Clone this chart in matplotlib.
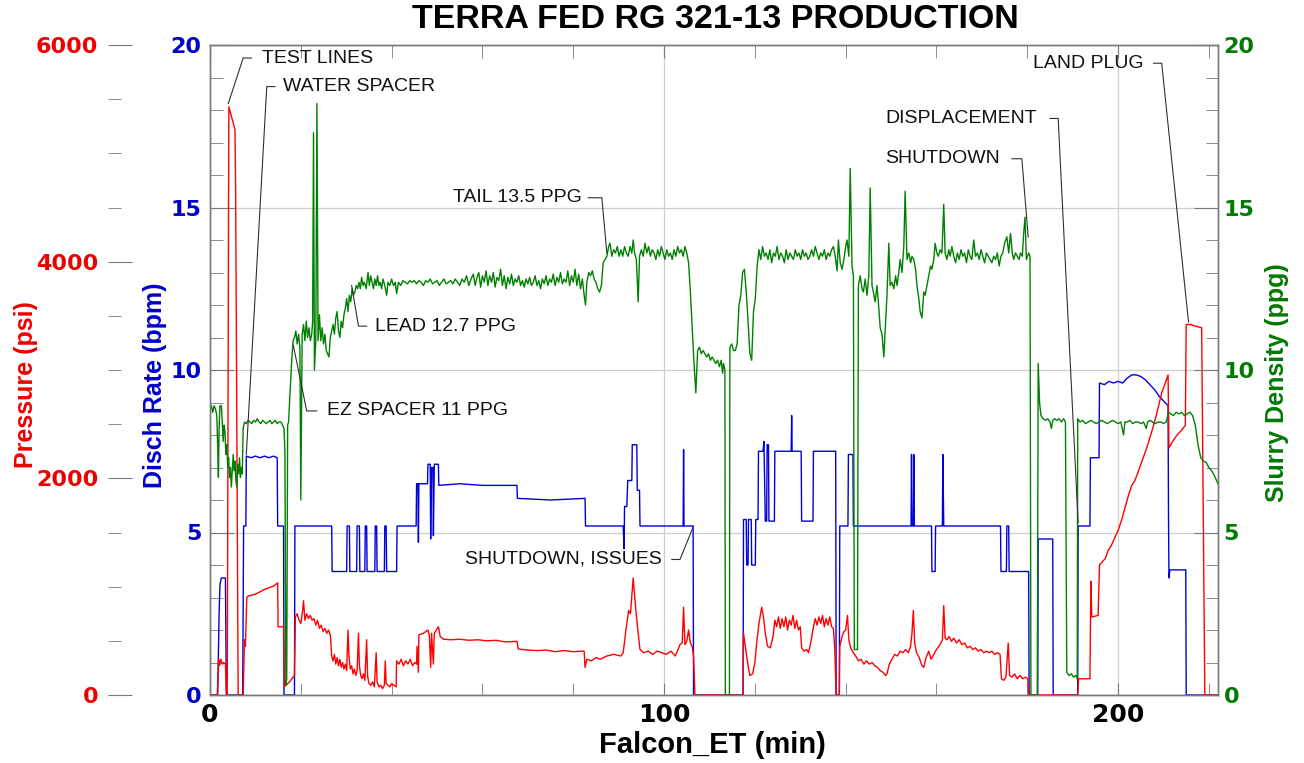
import matplotlib
matplotlib.use("Agg")
import matplotlib.pyplot as plt
from matplotlib.ticker import MultipleLocator

# ---------------- data ----------------
time_ticks = [0, 100, 200]
rate_ticks = [0, 5, 10, 15, 20]
dens_ticks = [0, 5, 10, 15, 20]
press_ticks = [0, 2000, 4000, 6000]

rate_t = [0, 1.7, 2.0, 2.2, 2.5, 3.4, 3.6, 7.2, 7.4, 7.9, 8.0, 9.0, 10.0, 11.0, 12.0, 13.0, 14.0,
          14.8, 14.9, 16.2, 16.3, 18.6, 18.7, 26.8, 26.9, 30.1, 30.2, 30.7, 30.8, 32.3, 32.4, 32.9,
          33.0, 34.1, 34.2, 34.5, 34.6, 36.3, 36.4, 36.7, 36.8, 38.4, 38.5, 38.8, 38.9, 41.1, 41.2,
          45.4, 45.5, 45.8, 45.9, 46.0, 47.9, 48.0, 48.5, 48.6, 48.8, 49.1, 49.2, 49.4, 50.3, 50.4,
          55.0, 60.0, 67.6, 67.7, 75.0, 82.6, 82.7, 91.0, 91.2, 91.3, 91.8, 92.0, 92.9, 93.0, 94.0,
          94.1, 94.6, 94.7, 104.2, 104.3, 104.4, 106.4, 106.5, 117.4, 117.5, 118.1, 118.2, 118.5,
          118.6, 119.2, 119.3, 120.1, 120.2, 120.7, 120.8, 121.8, 122.0, 122.3, 122.6, 122.7, 123.0,
          123.1, 124.3, 124.4, 128.0, 128.1, 128.2, 130.2, 130.3, 132.8, 132.9, 137.8, 137.9, 138.6,
          138.7, 140.5, 140.6, 141.6, 141.7, 154.4, 154.5, 154.6, 154.9, 155.0, 155.1, 158.9, 159.0,
          159.7, 159.8, 161.3, 161.4, 161.6, 174.1, 174.2, 175.4, 175.5, 175.9, 176.0, 180.3, 180.4,
          182.3, 182.4, 185.6, 185.7, 191.1, 191.2, 193.8, 193.9, 195.8, 195.9, 197.0, 198.0, 199.0,
          200.0, 201.0, 202.0, 203.0, 204.0, 205.0, 206.0, 207.0, 208.0, 209.0, 210.0, 211.0, 211.1,
          211.2, 211.4, 214.9, 215.0, 222.0]
rate_bpm = [0, 0, 2.5, 3.4, 3.6, 3.6, 0, 0, 5.2, 5.2, 7.35, 7.3, 7.35, 7.3, 7.35, 7.3, 7.35,
            7.3, 5.2, 5.2, 0, 0, 5.2, 5.2, 3.8, 3.8, 5.2, 5.2, 3.8, 3.8, 5.2, 5.2,
            3.8, 3.8, 5.2, 5.2, 3.8, 3.8, 5.2, 5.2, 3.8, 3.8, 5.2, 5.2, 3.8, 3.8, 5.2,
            5.2, 6.5, 6.5, 4.7, 6.5, 6.5, 7.1, 7.1, 4.8, 7.0, 7.0, 4.9, 7.1, 7.1, 6.45,
            6.5, 6.45, 6.45, 6.05, 6.0, 6.05, 5.2, 5.2, 4.5, 5.8, 5.8, 6.6, 6.6, 7.7, 7.7,
            6.3, 6.3, 5.2, 5.2, 7.55, 5.2, 5.2, 0, 0, 5.4, 5.4, 4.0, 4.0,
            5.4, 5.4, 4.0, 4.0, 5.4, 5.4, 7.5, 7.5, 7.8, 5.35, 5.35, 7.7, 7.7,
            5.35, 5.35, 7.5, 7.5, 8.6, 7.5, 7.5, 5.35, 5.35, 7.5, 7.5, 0, 0,
            5.2, 5.2, 7.4, 7.4, 5.2, 5.2, 7.4, 5.2, 5.2, 7.4, 5.2, 5.2, 3.8,
            3.8, 5.2, 5.2, 7.4, 5.2, 5.2, 3.8, 3.8, 5.2, 5.2, 3.8, 3.8, 0,
            0, 4.8, 4.8, 0, 0, 5.2, 5.2, 7.3, 7.3, 9.6, 9.55, 9.65, 9.6,
            9.65, 9.6, 9.75, 9.85, 9.85, 9.8, 9.7, 9.55, 9.4, 9.2, 9.05, 8.9, 5.5,
            3.6, 3.85, 3.85, 0, 0]

press_t = [0, 1.6, 1.9, 2.1, 2.4, 2.7, 3.0, 3.4, 3.6, 3.8, 4.15, 5.5, 5.65, 6.2, 7.3, 7.6, 7.8,
           8.1, 8.5, 10.0, 12.0, 14.0, 14.9, 15.0, 16.2, 16.35, 17.5, 18.6, 18.8, 19.2, 19.6, 20.0,
           20.4, 20.6, 20.9, 21.3, 21.7, 22.1, 22.5, 22.9, 23.3, 23.7, 24.1, 24.5, 24.9, 25.3, 25.7,
           26.1, 26.5, 26.8, 27.1, 27.4, 27.7, 28.0, 28.3, 28.6, 28.9, 29.2, 29.5, 29.8, 30.1, 30.4,
           30.6, 30.9, 31.2, 31.5, 31.8, 32.1, 32.4, 32.7, 32.9, 33.2, 33.5, 33.8, 34.1, 34.5, 34.7,
           35.0, 35.4, 35.8, 36.2, 36.6, 36.8, 37.2, 37.6, 38.0, 38.4, 38.6, 38.8, 39.2, 39.6, 40.0,
           40.5, 41.0, 41.1, 41.6, 42.1, 42.6, 43.1, 43.6, 44.1, 44.6, 45.1, 45.5, 45.6, 45.9, 46.0,
           47.0, 48.0, 48.3, 48.6, 48.8, 49.2, 49.4, 50.3, 50.7, 51.4, 53.0, 55.0, 57.0, 59.0, 61.0,
           63.0, 65.0, 67.6, 67.9, 70.0, 72.0, 74.0, 76.0, 78.0, 80.0, 82.4, 82.6, 83.0, 84.0, 85.0,
           86.0, 87.4, 89.0, 90.5, 91.0, 91.6, 92.2, 92.6, 93.2, 93.8, 94.3, 94.7, 95.5, 96.5, 97.5,
           98.5, 99.5, 100.5, 101.5, 102.5, 103.5, 104.0, 104.3, 104.6, 105.0, 105.4, 105.8, 106.2,
           106.5, 106.8, 117.4, 117.5, 118.0, 118.5, 118.9, 119.5, 120.0, 120.4, 120.9, 121.5, 121.9,
           122.3, 122.8, 123.4, 124.0, 124.4, 124.8, 125.2, 125.6, 126.0, 126.4, 126.8, 127.2, 127.6,
           128.0, 128.4, 128.8, 129.2, 129.6, 130.0, 130.3, 130.8, 131.4, 131.8, 132.3, 132.9, 133.3,
           133.7, 134.1, 134.5, 134.9, 135.3, 135.7, 136.1, 136.5, 136.9, 137.3, 137.6, 137.9, 138.6,
           138.7, 139.2, 139.6, 140.0, 140.4, 140.7, 141.1, 141.7, 142.2, 142.8, 143.4, 144.0, 144.6,
           145.2, 145.8, 146.4, 147.0, 147.6, 148.2, 148.8, 149.1, 149.6, 150.2, 150.8, 151.4, 152.0,
           152.6, 153.2, 153.8, 154.3, 154.6, 154.9, 155.2, 155.6, 156.2, 156.8, 157.2, 157.7, 158.3,
           158.8, 159.4, 160.0, 160.8, 161.3, 161.6, 161.9, 162.3, 162.8, 163.3, 163.8, 164.4, 165.0,
           165.6, 166.2, 166.8, 167.4, 168.0, 168.6, 169.2, 169.8, 170.4, 171.0, 171.6, 172.2, 172.8,
           173.4, 174.0, 174.3, 174.8, 175.3, 175.8, 176.1, 176.6, 177.2, 177.8, 178.4, 179.0, 179.6,
           180.1, 180.3, 191.1, 191.3, 193.8, 194.0, 194.2, 195.6, 195.9, 196.5, 197.2, 197.8, 198.5,
           199.3, 200.1, 200.8, 201.6, 202.4, 203.0, 203.7, 204.5, 205.4, 206.3, 207.4, 208.5, 209.6,
           210.4, 211.0, 211.2, 212.0, 213.0, 214.0, 214.8, 215.0, 216.0, 217.0, 218.4, 219.1, 222.0]
press_psi = [0, 0, 330, 270, 330, 285, 300, 285, 30, 0, 5430, 5220, 4650, 0, 0, 510, 450,
             900, 915, 930, 975, 1005, 1035, 630, 630, 75, 120, 180, 720, 750, 690, 660,
             780, 870, 690, 750, 705, 735, 690, 705, 645, 690, 615, 645, 585, 615, 570,
             600, 555, 360, 315, 375, 285, 345, 270, 330, 255, 300, 240, 285, 225, 600,
             360, 240, 270, 195, 240, 180, 225, 570, 270, 180, 150, 195, 135, 510, 180,
             105, 90, 120, 75, 390, 120, 75, 90, 60, 90, 315, 105, 90, 75, 105,
             90, 75, 315, 285, 330, 270, 315, 285, 330, 270, 300, 285, 450, 210, 555,
             570, 600, 555, 255, 570, 285, 570, 630, 540, 515, 510, 515, 505, 510, 500,
             505, 490, 495, 425, 415, 410, 415, 400, 410, 400, 405, 255, 330, 315, 345,
             330, 360, 375, 360, 390, 600, 780, 750, 1080, 780, 570, 420, 390, 405, 375,
             405, 390, 375, 405, 360, 465, 480, 810, 465, 495, 600, 480, 450,
             360, 0, 0, 570, 420, 270, 180, 195, 300, 480, 660, 810, 720,
             570, 450, 435, 540, 690, 630, 720, 615, 705, 630, 720, 600, 690,
             645, 735, 615, 690, 600, 630, 435, 405, 420, 390, 480, 630, 705,
             645, 720, 660, 735, 630, 705, 645, 720, 630, 615, 420, 0, 0,
             450, 540, 585, 600, 735, 510, 435, 390, 360, 315, 330, 285, 315,
             285, 300, 270, 255, 225, 210, 180, 195, 285, 330, 375, 360, 405,
             390, 420, 390, 450, 570, 780, 480, 390, 345, 270, 255, 345, 405,
             330, 375, 420, 465, 510, 825, 525, 510, 540, 495, 525, 480, 510,
             465, 480, 435, 450, 420, 435, 405, 420, 390, 405, 390, 405, 375,
             390, 375, 150, 135, 165, 480, 180, 165, 195, 150, 180, 150, 165,
             150, 0, 0, 150, 150, 1050, 720, 735, 1200, 1230, 1260, 1335, 1380,
             1455, 1530, 1620, 1740, 1860, 1935, 1980, 2070, 2175, 2280, 2430, 2595, 2790,
             2880, 2955, 2280, 2340, 2400, 2445, 2490, 3420, 3420, 3405, 3390, 0, 0]

dens_t = [0.0, 0.3, 0.6, 0.9, 1.2, 1.5, 1.7, 1.85, 2.0, 2.2, 2.5, 2.7, 2.9, 3.1, 3.3, 3.5, 3.7,
          3.9, 4.1, 4.3, 4.5, 4.7, 4.9, 5.1, 5.3, 5.5, 5.7, 5.9, 6.1, 6.3, 6.5, 6.7, 6.9, 7.1, 7.3,
          7.6, 8.0, 8.4, 8.8, 9.2, 9.6, 10.0, 10.4, 10.8, 11.2, 11.6, 12.0, 12.4, 12.8, 13.2, 13.6,
          14.0, 14.4, 14.8, 15.2, 15.6, 16.0, 16.3, 16.5, 16.7, 16.9, 17.1, 17.3, 17.6, 18.0, 18.3,
          18.6, 18.9, 19.2, 19.5, 19.8, 20.0, 20.3, 20.6, 20.9, 21.2, 21.5, 21.8, 22.1, 22.4, 22.6,
          22.8, 23.0, 23.3, 23.55, 23.8, 24.1, 24.4, 24.7, 25.0, 25.3, 25.6, 25.9, 26.2, 26.5, 26.8,
          27.1, 27.4, 27.7, 28.0, 28.3, 28.6, 28.9, 29.2, 29.5, 29.8, 30.1, 30.4, 30.7, 31.0, 31.3,
          31.6, 31.9, 32.2, 32.5, 32.8, 33.1, 33.4, 33.7, 34.0, 34.4, 34.8, 35.1, 35.4, 35.7, 36.0,
          36.3, 36.6, 36.9, 37.2, 37.5, 37.8, 38.1, 38.5, 38.9, 39.2, 39.6, 40.0, 40.4, 40.8, 41.1,
          41.5, 42.0, 42.5, 43.0, 43.5, 44.0, 44.5, 45.0, 45.5, 46.0, 46.5, 47.0, 47.5, 48.0, 48.5,
          49.0, 49.5, 50.0, 50.5, 51.0, 51.5, 52.0, 52.5, 53.0, 53.5, 54.0, 54.5, 55.0, 55.5, 56.0,
          56.5, 57.0, 57.5, 58.0, 58.4, 58.8, 59.2, 59.6, 60.0, 60.4, 60.8, 61.2, 61.6, 62.0, 62.4,
          62.8, 63.2, 63.6, 64.0, 64.4, 64.8, 65.2, 65.6, 66.0, 66.4, 66.8, 67.2, 67.6, 68.0, 68.4,
          68.8, 69.2, 69.6, 70.0, 70.4, 70.8, 71.2, 71.6, 72.0, 72.4, 72.8, 73.2, 73.6, 74.0, 74.4,
          74.8, 75.2, 75.6, 76.0, 76.4, 76.8, 77.2, 77.6, 78.0, 78.4, 78.8, 79.2, 79.6, 80.0, 80.4,
          80.8, 81.2, 81.6, 82.0, 82.4, 82.7, 83.0, 83.4, 83.8, 84.2, 84.6, 85.0, 85.4, 85.8, 86.2,
          86.6, 87.0, 87.4, 87.8, 88.1, 88.5, 88.9, 89.3, 89.7, 90.1, 90.5, 90.9, 91.3, 91.7, 92.1,
          92.5, 92.9, 93.2, 93.5, 93.9, 94.3, 94.6, 95.0, 95.4, 95.8, 96.2, 96.6, 97.0, 97.4, 97.8,
          98.2, 98.6, 99.0, 99.4, 99.8, 100.2, 100.6, 101.0, 101.4, 101.8, 102.2, 102.6, 103.0, 103.4,
          103.8, 104.2, 104.6, 105.0, 105.4, 105.8, 106.3, 106.6, 107.0, 107.4, 107.8, 108.2, 108.6,
          109.0, 109.4, 109.8, 110.2, 110.6, 111.0, 111.4, 111.8, 112.2, 112.6, 112.9, 113.1, 113.4,
          113.5, 114.4, 114.5, 114.9, 115.3, 115.7, 116.1, 116.5, 116.9, 117.3, 117.7, 118.1, 118.5,
          118.9, 119.3, 119.7, 120.1, 120.5, 120.9, 121.3, 121.7, 122.1, 122.5, 122.9, 123.3, 123.7,
          124.1, 124.5, 124.9, 125.3, 125.7, 126.1, 126.5, 126.9, 127.3, 127.7, 128.1, 128.5, 128.9,
          129.3, 129.7, 130.1, 130.5, 130.9, 131.3, 131.7, 132.1, 132.5, 132.9, 133.3, 133.7, 134.1,
          134.5, 134.9, 135.3, 135.7, 136.1, 136.5, 136.9, 137.3, 137.7, 138.1, 138.4, 138.8, 139.2,
          139.6, 140.0, 140.3, 140.7, 141.0, 141.4, 141.7, 141.9, 142.6, 142.8, 143.2, 143.6, 143.9,
          144.3, 144.7, 145.1, 145.4, 145.8, 146.1, 146.5, 146.9, 147.3, 147.6, 148.0, 148.4, 148.8,
          149.1, 149.5, 149.8, 150.2, 150.6, 151.0, 151.3, 151.7, 152.0, 152.4, 152.8, 153.1, 153.5,
          153.9, 154.3, 154.6, 155.0, 155.4, 155.7, 156.1, 156.4, 156.8, 157.2, 157.5, 157.9, 158.3,
          158.7, 159.0, 159.4, 159.7, 160.1, 160.4, 160.8, 161.2, 161.6, 161.9, 162.3, 162.7, 163.0,
          163.4, 163.8, 164.2, 164.6, 165.0, 165.4, 165.8, 166.2, 166.6, 167.0, 167.4, 167.8, 168.2,
          168.6, 169.0, 169.4, 169.8, 170.2, 170.6, 171.0, 171.4, 171.8, 172.2, 172.6, 173.0, 173.4,
          173.8, 174.2, 174.6, 175.0, 175.5, 175.9, 176.3, 176.7, 177.0, 177.4, 177.8, 178.2, 178.5,
          178.9, 179.2, 179.5, 179.8, 180.3, 180.6, 180.8, 182.2, 182.4, 182.7, 183.0, 183.5, 184.0,
          184.5, 185.0, 185.3, 185.6, 186.0, 186.5, 187.0, 187.5, 188.0, 188.4, 188.7, 189.2, 189.7,
          190.2, 190.7, 191.0, 191.1, 191.6, 192.2, 192.8, 193.4, 194.0, 194.6, 195.2, 195.8, 196.4,
          197.0, 197.6, 198.2, 198.8, 199.4, 200.0, 200.6, 201.2, 201.5, 202.0, 202.6, 203.2, 203.8,
          204.4, 205.0, 205.6, 206.2, 206.5, 207.0, 207.6, 208.2, 208.8, 209.4, 210.0, 210.6, 211.1,
          211.6, 212.2, 212.8, 213.4, 214.0, 214.6, 215.2, 215.8, 216.4, 217.0, 217.6, 218.2, 218.8,
          219.4, 220.0, 220.6, 221.2, 222.0]
dens_ppg = [8.8, 8.9, 8.7, 8.9, 8.8, 8.6, 7.6, 6.7, 8.2, 8.9, 8.9, 8.4, 7.8, 8.3, 8.1, 7.4, 7.7,
            7.0, 7.3, 6.7, 7.0, 6.4, 6.9, 7.4, 6.9, 7.2, 6.6, 6.4, 7.1, 6.8, 7.3, 6.7, 7.0, 6.8, 8.2,
            8.4, 8.35, 8.45, 8.4, 8.35, 8.45, 8.4, 8.5, 8.4, 8.35, 8.45, 8.4, 8.35, 8.4, 8.45, 8.35,
            8.4, 8.45, 8.35, 8.4, 8.4, 8.3, 8.2, 7.5, 0.3, 0.5, 8.3, 8.4, 9.2, 10.3, 10.9,
            11.0, 11.2, 10.8, 11.1, 10.7, 6.0, 11.1, 11.4, 10.9, 11.5, 11.0, 11.3, 10.9, 11.1, 11.5,
            17.3, 10.0, 10.9, 18.2, 10.9, 11.7, 10.9, 11.3, 10.8, 11.1, 10.6, 10.5, 10.4, 11.0, 11.2,
            11.4, 11.1, 11.6, 11.8, 11.2, 11.0, 11.5, 11.3, 11.7, 11.9, 12.2, 11.8, 12.3, 12.1, 12.5,
            12.3, 12.4, 12.6, 12.5, 12.7, 12.5, 12.85, 12.6, 12.7, 12.5, 13.0, 12.6, 12.9, 12.7, 12.5,
            12.8, 12.6, 12.9, 12.6, 12.7, 12.5, 12.8, 12.6, 12.3, 12.7, 12.6, 12.8, 12.6, 12.7, 12.35,
            12.7, 12.6, 12.75, 12.7, 12.65, 12.75, 12.7, 12.75, 12.65, 12.75, 12.7, 12.6, 12.75, 12.7, 12.8,
            12.65, 12.7, 12.75, 12.6, 12.7, 12.8, 12.65, 12.7, 12.75, 12.65, 12.8, 12.7, 12.6, 12.8, 12.7,
            12.9, 12.6, 12.8, 12.95, 12.6, 12.85, 13.0, 12.55, 12.9, 12.7, 13.05, 12.6, 12.9, 12.7, 13.0,
            12.55, 12.85, 12.75, 13.1, 12.6, 12.9, 12.5, 12.85, 12.65, 12.95, 12.6, 12.8, 12.7, 12.9, 12.6,
            12.75, 12.55, 12.8, 12.65, 12.85, 12.6, 12.7, 12.9, 12.6, 12.75, 12.5, 12.8, 12.65, 12.9, 12.6,
            12.8, 12.7, 12.95, 12.6, 12.85, 12.7, 13.0, 12.65, 12.8, 12.7, 13.05, 12.6, 12.9, 12.7, 13.1,
            12.6, 12.95, 12.5, 12.8, 12.3, 12.0, 12.7, 13.0, 12.9, 13.05, 12.8, 12.7, 12.5, 12.4, 12.6,
            13.3, 13.4, 13.5, 13.8, 13.9, 13.5, 13.7, 13.6, 13.8, 13.5, 13.7, 13.5, 13.8, 13.6, 13.5,
            13.8, 13.6, 14.0, 13.6, 13.4, 12.1, 13.5, 13.7, 13.5, 13.9, 13.6, 13.8, 13.5, 13.7, 13.6,
            13.4, 13.7, 13.5, 13.8, 13.6, 13.4, 13.7, 13.5, 13.6, 13.4, 13.7, 13.5, 13.8, 13.6,
            13.7, 13.5, 13.8, 13.6, 13.3, 12.4, 11.0, 10.2, 9.3, 10.6, 10.7, 10.5, 10.6,
            10.5, 10.4, 10.5, 10.3, 10.4, 10.3, 10.2, 10.3, 10.1, 10.3, 9.9, 10.2, 10.0,
            0.0, 0.0, 10.7, 10.8, 10.6, 10.6, 10.8, 12.0, 12.3, 13.0, 13.1, 12.4, 11.5,
            10.5, 10.3, 11.8, 12.2, 13.2, 13.7, 13.4, 13.8, 13.5, 13.6, 13.4, 13.7, 13.3,
            13.6, 13.5, 13.8, 13.4, 13.6, 13.5, 13.3, 13.7, 13.4, 13.6, 13.5, 13.4, 13.7,
            13.5, 13.6, 13.4, 13.7, 13.5, 13.6, 13.4, 13.5, 13.7, 13.5, 13.8, 13.6, 13.4,
            13.6, 13.5, 13.7, 13.4, 13.6, 13.5, 13.7, 13.8, 13.5, 13.05, 14.0, 13.3, 13.1,
            13.4, 13.8, 14.0, 13.5, 16.2, 13.2, 12.9, 1.4, 1.4, 12.6, 12.9, 12.5, 12.4,
            12.8, 12.3, 12.9, 15.6, 12.6, 12.4, 12.1, 12.6, 11.9, 11.3, 11.1, 10.4, 11.5,
            12.3, 13.9, 12.6, 12.7, 12.5, 12.9, 12.6, 13.0, 13.4, 13.0, 13.8, 15.5, 13.4,
            13.6, 13.3, 13.5, 13.4, 13.1, 12.6, 12.2, 11.8, 11.6, 12.4, 12.3, 12.6, 12.9,
            13.2, 13.1, 13.4, 13.9, 13.6, 13.5, 13.7, 13.6, 15.1, 13.6, 13.4, 13.7, 13.5,
            13.8, 13.5, 13.3, 13.6, 13.4, 13.7, 13.5, 13.6, 13.3, 13.7, 13.5, 13.4, 14.0,
            13.5, 13.6, 13.4, 13.7, 13.5, 13.3, 13.6, 13.5, 13.4, 13.3, 13.5, 13.4, 13.6,
            13.2, 13.5, 13.6, 13.9, 14.1, 13.6, 14.2, 13.6, 13.4, 13.6, 13.5, 13.4, 13.6,
            13.5, 14.2, 14.7, 13.4, 13.6, 13.5, 0.0, 0.0, 10.2, 9.0, 8.6, 8.5, 8.45,
            8.5, 8.4, 8.2, 8.45, 8.5, 8.45, 8.5, 8.4, 8.5, 8.4, 0.7, 0.6, 0.65,
            0.55, 0.6, 0.5, 8.5, 8.4, 8.45, 8.35, 8.4, 8.45, 8.4, 8.35, 8.4, 8.45,
            8.4, 8.35, 8.4, 8.45, 8.4, 8.35, 8.4, 8.0, 8.4, 8.4, 8.45, 8.35, 8.4,
            8.4, 8.35, 8.4, 8.2, 8.4, 8.45, 8.4, 8.35, 8.4, 8.4, 8.35, 8.4, 8.7,
            8.65, 8.6, 8.7, 8.65, 8.7, 8.6, 8.65, 8.7, 8.6, 8.3, 7.7, 7.3, 7.2,
            7.15, 7.0, 6.9, 6.75, 6.5]

# callout labels
callout_labels = ["TEST LINES", "WATER SPACER", "LEAD 12.7 PPG", "EZ SPACER 11 PPG",
                  "TAIL 13.5 PPG", "SHUTDOWN, ISSUES", "DISPLACEMENT", "SHUTDOWN", "LAND PLUG"]

# ---------------- layout / style ----------------
W, H = 1304, 763
fig = plt.figure(figsize=(W / 100, H / 100), dpi=100)
L, R, T, B = 210, 1218, 45, 695
ax = fig.add_axes([L / W, 1 - B / H, (R - L) / W, (B - T) / H])
axp = ax.twinx()
axg = ax.twinx()

RED, BLUE, GREEN = "#ff0000", "#0000dd", "#008000"
RED_T, BLUE_T, GREEN_T = "#ee0000", "#0000cc", "#007a00"
SPINE = "#7a7a7a"
SANS = ["Liberation Sans", "DejaVu Sans"]
TICKF = {"fontfamily": "DejaVu Sans", "fontweight": "bold", "fontsize": 16}

ax.set_zorder(1)
axp.set_zorder(2)
axg.set_zorder(3)

ax.plot(rate_t, rate_bpm, color=BLUE, lw=1.0)
axp.plot(press_t, press_psi, color=RED, lw=1.0)
axg.plot(dens_t, dens_ppg, color=GREEN, lw=1.0)

ax.set_xlim(0, 222)
ax.set_ylim(0, 20)
axg.set_ylim(0, 20)
axp.set_ylim(0, 6000)

# grid
ax.set_axisbelow(True)
ax.grid(True, which="major", color="#cfcfcf", lw=0.9)

# x axis
ax.set_xticks(time_ticks, labels=[str(v) for v in time_ticks], fontfamily="DejaVu Sans",
              fontweight="bold", fontsize=18)
ax.xaxis.set_minor_locator(MultipleLocator(20))
ax.tick_params(axis="x", which="both", direction="in", top=True, bottom=True,
               color=SPINE, pad=6, length=9)

# blue (left) axis
ax.set_yticks(rate_ticks, labels=[str(v) for v in rate_ticks], color=BLUE_T, **TICKF)
ax.yaxis.set_minor_locator(MultipleLocator(1))
ax.tick_params(axis="y", which="both", direction="in", left=True, right=False,
               color=SPINE, pad=6)
ax.tick_params(axis="y", which="major", length=17)
ax.tick_params(axis="y", which="minor", length=9)

# green (right) axis
axg.set_yticks(dens_ticks, labels=[str(v) for v in dens_ticks], color=GREEN_T, **TICKF)
axg.yaxis.set_minor_locator(MultipleLocator(1))
axg.tick_params(axis="y", which="both", direction="in", left=False, right=True,
                color=SPINE, pad=4)
axg.tick_params(axis="y", which="major", length=17)
axg.tick_params(axis="y", which="minor", length=9)

# red pressure axis, offset to the left
axp.yaxis.set_ticks_position("left")
axp.yaxis.set_label_position("left")
axp.spines["left"].set_position(("axes", -(L - 108) / (R - L)))
for s in axp.spines.values():
    s.set_visible(False)
axp.set_yticks(press_ticks, labels=[str(v) for v in press_ticks], color=RED_T, **TICKF)
axp.yaxis.set_minor_locator(MultipleLocator(500))
axp.tick_params(axis="y", which="both", direction="in", color=SPINE, pad=7)
axp.tick_params(axis="y", which="major", length=17)
axp.tick_params(axis="y", which="minor", length=9)

for a in (ax, axg):
    for s in a.spines.values():
        s.set_color(SPINE)
        s.set_linewidth(1.0)

# axis labels and title
fig.text(26 / W, 1 - 385 / H, "Pressure (psi)", color=RED_T, rotation=90,
         ha="center", va="center", fontfamily=SANS, fontweight="bold", fontsize=18)
fig.text(155 / W, 1 - 385 / H, "Disch Rate (bpm)", color=BLUE_T, rotation=90,
         ha="center", va="center", fontfamily=SANS, fontweight="bold", fontsize=18)
fig.text(1277 / W, 1 - 383 / H, "Slurry Density (ppg)", color=GREEN_T, rotation=90,
         ha="center", va="center", fontfamily=SANS, fontweight="bold", fontsize=18)
fig.text(712 / W, 1 - 745 / H, "Falcon_ET (min)", color="black", ha="center", va="center",
         fontfamily=SANS, fontweight="bold", fontsize=21)
fig.text(715 / W, 1 - 20 / H, "TERRA FED RG 321-13 PRODUCTION", color="black", ha="center",
         va="center", fontfamily=SANS, fontweight="bold", fontsize=24.5)

# callouts (positions in data coordinates of the density/rate scale)
callout_text_xy = [(11.4, 19.6), (16.1, 18.72), (36.3, 11.35), (25.7, 8.74),
                   (81.9, 15.3), (99.5, 4.17), (182.1, 17.74), (174.0, 16.5), (205.6, 19.44)]
callout_ha = ["left", "left", "left", "left", "right", "right", "right", "right", "right"]
callout_stub = [(9.1, 7.3), (14.3, 12.5), (34.5, 32.7), (23.5, 21.3),
                (83.3, 86.3), (101.7, 103.5), (185.0, 186.8), (176.6, 178.8), (207.8, 209.6)]
callout_target = [(4.03, 18.2), (8.0, 7.4), (31.2, 12.6), (18.35, 10.76),
                  (87.4, 13.6), (106.45, 5.18), (191.2, 5.3), (180.2, 14.09), (215.5, 11.48)]

for lab, (tx, ty), ha, (s0, s1), (px, py) in zip(callout_labels, callout_text_xy, callout_ha,
                                                  callout_stub, callout_target):
    axg.text(tx, ty, lab, ha=ha, va="center", fontsize=14, color="#111111",
             fontfamily=SANS, zorder=6)
    axg.plot([s0, s1, px], [ty, ty, py], color="#303030", lw=0.8, zorder=5)

fig.savefig("out.png", dpi=100)
